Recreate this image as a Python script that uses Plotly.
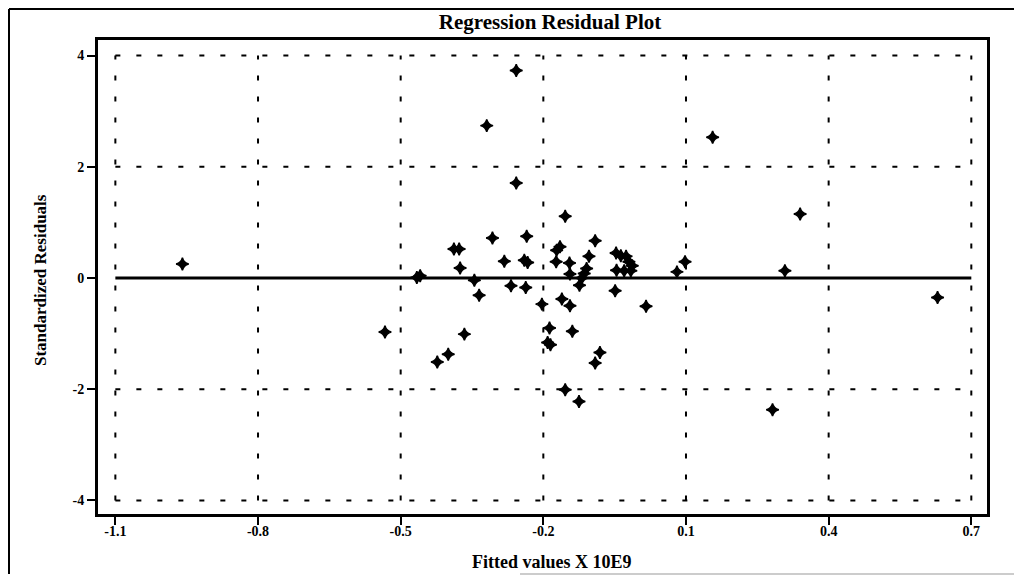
import plotly.graph_objects as go

# Data
fitted = [-0.959, -0.533, -0.466, -0.459, -0.423, -0.400, -0.388, -0.377, -0.375, -0.366,
          -0.345, -0.335, -0.307, -0.319, -0.257, -0.257, -0.282, -0.268, -0.237, -0.240,
          -0.233, -0.235, -0.203, -0.154, -0.172, -0.165, -0.173, -0.145, -0.161, -0.144,
          -0.144, -0.124, -0.119, -0.114, -0.109, -0.104, -0.091, -0.049, -0.046, -0.047,
          -0.037, -0.026, -0.020, -0.013, -0.016, -0.030, 0.016, 0.081, 0.098, -0.187,
          -0.191, -0.185, -0.139, -0.081, -0.091, -0.154, -0.125, 0.156, 0.340, 0.308,
          0.629, 0.282]
residuals = [0.25, -0.97, 0.01, 0.04, -1.51, -1.37, 0.52, 0.52, 0.18, -1.01,
             -0.04, -0.31, 0.72, 2.74, 3.73, 1.71, 0.30, -0.14, -0.17, 0.32,
             0.28, 0.75, -0.47, 1.11, 0.50, 0.56, 0.29, 0.27, -0.38, -0.50,
             0.07, -0.13, 0.00, 0.08, 0.17, 0.39, 0.67, -0.23, 0.14, 0.45,
             0.40, 0.39, 0.29, 0.22, 0.13, 0.13, -0.51, 0.11, 0.29, -0.90,
             -1.16, -1.20, -0.96, -1.34, -1.53, -2.01, -2.22, 2.53, 1.15, 0.13,
             -0.35, -2.37]

x_ticks = [-1.1, -0.8, -0.5, -0.2, 0.1, 0.4, 0.7]
x_tick_labels = ["-1.1", "-0.8", "-0.5", "-0.2", "0.1", "0.4", "0.7"]
y_ticks = [-4, -2, 0, 2, 4]
y_tick_labels = ["-4", "-2", "0", "2", "4"]
ref_line_x = [-1.1, 0.7]
ref_line_y = [0, 0]

FONT = "Liberation Serif"

fig = go.Figure()

fig.add_trace(go.Scatter(
    x=ref_line_x, y=ref_line_y, mode="lines",
    line=dict(color="black", width=3), hoverinfo="skip", showlegend=False))

fig.add_trace(go.Scatter(
    x=fitted, y=residuals, mode="markers",
    marker=dict(symbol="star-diamond", size=9, color="black",
                line=dict(color="black", width=1.5)),
    showlegend=False))

shapes = []
dash = "5px,16px"
for xv in x_ticks:
    shapes.append(dict(type="line", xref="x", yref="y", x0=xv, x1=xv,
                       y0=y_ticks[0], y1=y_ticks[-1],
                       line=dict(color="black", width=2, dash=dash), layer="below"))
for yv in y_ticks:
    if yv == 0:
        continue
    shapes.append(dict(type="line", xref="x", yref="y", x0=x_ticks[0], x1=x_ticks[-1],
                       y0=yv, y1=yv,
                       line=dict(color="black", width=2, dash=dash), layer="below"))

# The page body has an 8px margin, so the figure is offset by 8px.
OFF = 8
W, H = 1022 - OFF, 583 - 2 * OFF
ml, mt = 98 - OFF, 40 - OFF
mr = W - (987 - OFF)
mb = H - (514 - OFF)
pw, ph = W - ml - mr, H - mt - mb
def px(x):
    return (x - OFF - ml) / pw
def py(y):
    return (H - mb - (y - OFF)) / ph
top_y = py(OFF + 1)
bot_y = py(OFF + H - 1)
left_x = px(OFF + 1)
right_x = px(1016)
shapes += [
    dict(type="line", xref="paper", yref="paper", x0=left_x, x1=right_x, y0=top_y, y1=top_y,
         line=dict(color="black", width=2)),
    dict(type="line", xref="paper", yref="paper", x0=left_x, x1=left_x, y0=top_y, y1=bot_y,
         line=dict(color="black", width=2)),
    dict(type="line", xref="paper", yref="paper", x0=right_x, x1=right_x, y0=top_y, y1=bot_y,
         line=dict(color="black", width=2)),
    dict(type="line", xref="paper", yref="paper", x0=px(520), x1=right_x, y0=bot_y, y1=bot_y,
         line=dict(color="#999999", width=1)),
]

annotations = [
    dict(text="<b>Fitted values X 10E9</b>", xref="paper", yref="paper",
         x=px(552), y=py(562), xanchor="center", yanchor="middle", showarrow=False,
         font=dict(family=FONT, size=18, color="black")),
    dict(text="<b>Standardized Residuals</b>", xref="paper", yref="paper",
         x=px(40), y=py(280), xanchor="center", yanchor="middle", showarrow=False,
         textangle=-90, font=dict(family=FONT, size=17, color="black")),
]

fig.update_layout(
    width=W, height=H,
    margin=dict(l=ml, r=mr, t=mt, b=mb, autoexpand=False),
    paper_bgcolor="white", plot_bgcolor="white",
    shapes=shapes,
    annotations=annotations,
    title=dict(text="<b>Regression Residual Plot</b>", x=px(550), xref="paper", xanchor="center",
               y=1 - (22 - OFF) / H, yanchor="middle",
               font=dict(family=FONT, size=21, color="black")),
    xaxis=dict(
        range=[-1.1365, 0.733], tickvals=x_ticks, ticktext=x_tick_labels,
        showgrid=False, zeroline=False, automargin=False,
        showline=True, linecolor="black", linewidth=3, mirror=True,
        ticks="outside", ticklen=8, tickwidth=2, tickcolor="black",
        ticklabelstandoff=-6,
        tickfont=dict(family=FONT, size=14, color="black", weight="bold"),
    ),
    yaxis=dict(
        range=[-4.245, 4.28], tickvals=y_ticks, ticktext=y_tick_labels,
        showgrid=False, zeroline=False, automargin=False,
        showline=True, linecolor="black", linewidth=3, mirror=True,
        ticks="outside", ticklen=8, tickwidth=2, tickcolor="black",
        tickfont=dict(family=FONT, size=14, color="black", weight="bold"),
    ),
)

fig.write_html("out.html")
